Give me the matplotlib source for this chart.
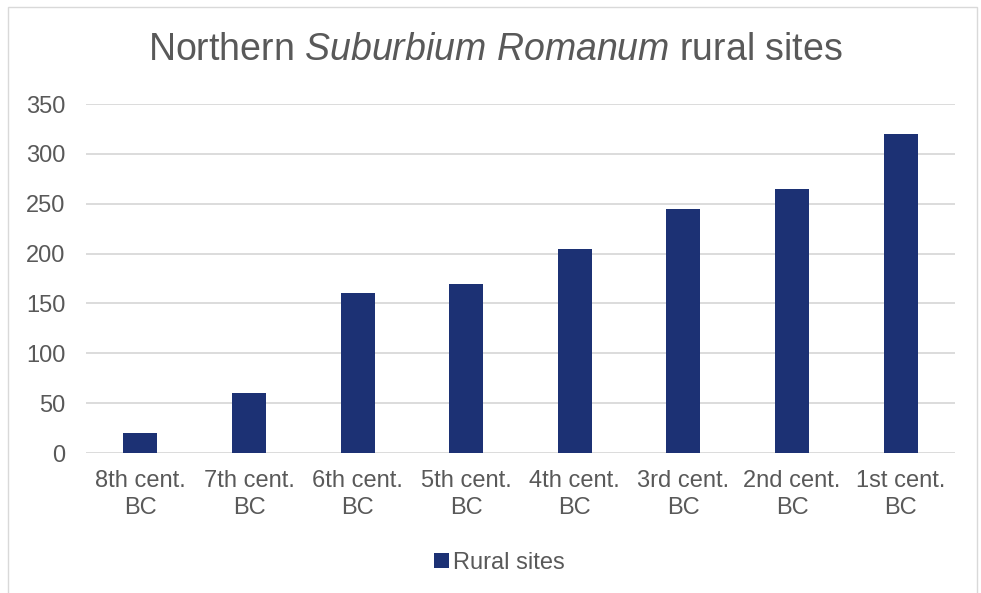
import matplotlib
matplotlib.use("Agg")
import matplotlib.pyplot as plt
from matplotlib.patches import Rectangle

categories = ["8th cent.\nBC", "7th cent.\nBC", "6th cent.\nBC", "5th cent.\nBC",
              "4th cent.\nBC", "3rd cent.\nBC", "2nd cent.\nBC", "1st cent.\nBC"]
rural_sites = [20, 60, 160, 170, 205, 245, 265, 320]
y_ticks = [0, 50, 100, 150, 200, 250, 300, 350]

plt.rcParams["font.family"] = ["Liberation Sans", "DejaVu Sans"]
plt.rcParams["mathtext.fontset"] = "custom"
plt.rcParams["mathtext.rm"] = "Liberation Sans"
plt.rcParams["mathtext.it"] = "Liberation Sans:italic"

text_col = "#595959"
bar_col = "#1c3174"

fig = plt.figure(figsize=(9.81, 5.93), dpi=100)
ax = fig.add_axes([0.0877, 0.236, 0.8858, 0.5886])

xs = list(range(len(categories)))
ax.bar(xs, rural_sites, width=0.313, color=bar_col, label="Rural sites", zorder=3)

ax.set_xlim(-0.5, len(categories) - 0.5)
ax.set_ylim(0, 350)
ax.set_yticks(y_ticks)
ax.set_xticks(xs)
ax.set_xticklabels(categories, fontsize=17, color=text_col, linespacing=1.3)
ax.tick_params(axis="y", length=0, pad=15, labelsize=17, labelcolor=text_col)
ax.tick_params(axis="x", length=0, pad=12)
ax.grid(axis="y", color="#d9d9d9", linewidth=1.3, zorder=0)
for s in ax.spines.values():
    s.set_visible(False)

fig.text(0.505, 0.915, r"Northern $\mathit{Suburbium\ Romanum}$ rural sites",
         ha="center", va="center", fontsize=27, color=text_col)

leg = ax.legend(loc="center", bbox_to_anchor=(0.476, -0.315), frameon=False,
                fontsize=17, handlelength=0.6, handleheight=0.6, handletextpad=0.2)
for t in leg.get_texts():
    t.set_color(text_col)

# chart border
fig.patches.append(Rectangle((8 / 981, -0.05), (977 - 8) / 981, 1 - 7 / 593 + 0.05,
                             transform=fig.transFigure, fill=False,
                             edgecolor="#d9d9d9", linewidth=1.0))

fig.savefig("out.png", dpi=100)
